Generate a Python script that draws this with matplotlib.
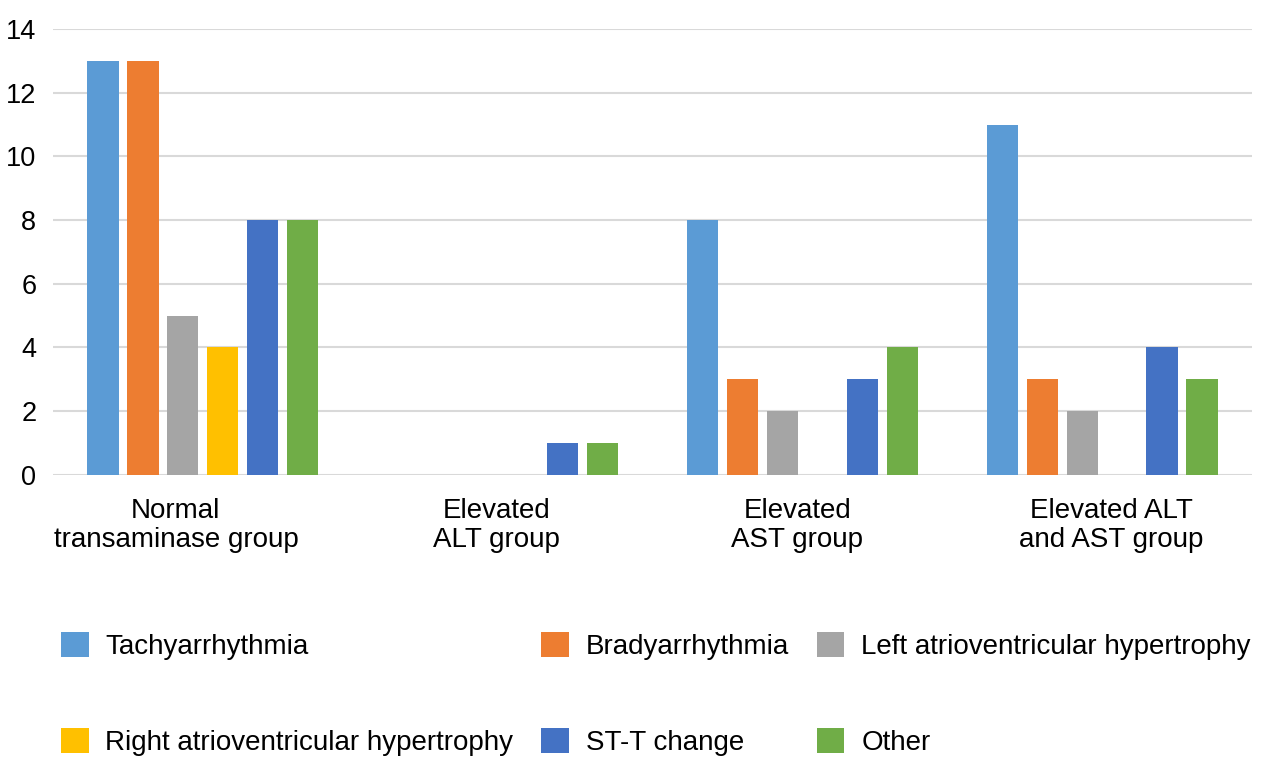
import numpy as np
import matplotlib
matplotlib.use("Agg")
import matplotlib.pyplot as plt
import matplotlib.transforms as mtransforms

plt.rcParams["font.family"] = ["Liberation Sans", "DejaVu Sans"]

groups = ["Normal\ntransaminase group", "Elevated\nALT group",
          "Elevated\nAST group", "Elevated ALT\nand AST group"]
series = ["Tachyarrhythmia", "Bradyarrhythmia", "Left atrioventricular hypertrophy",
          "Right atrioventricular hypertrophy", "ST-T change", "Other"]
tachy = [13, 0, 8, 11]
brady = [13, 0, 3, 3]
left_hyp = [5, 0, 2, 2]
right_hyp = [4, 0, 0, 0]
stt = [8, 1, 3, 4]
other = [8, 1, 4, 3]
values = [tachy, brady, left_hyp, right_hyp, stt, other]
colors = ["#5B9BD5", "#ED7D31", "#A5A5A5", "#FFC000", "#4472C4", "#70AD47"]

fig = plt.figure(figsize=(12.61, 7.64), dpi=100)
ax = fig.add_axes([53 / 1261, 1 - 474.7 / 764, 1199 / 1261, 445.7 / 764])

x = np.arange(len(groups))
step = 0.1333
width = 0.104
handles = []
for i, (name, vals, col) in enumerate(zip(series, values, colors)):
    b = ax.bar(x + (i - 2.5) * step, vals, width, color=col, label=name, zorder=3)
    handles.append(b)

ax.set_xlim(-0.5, 3.5)
ax.set_ylim(0, 14)
ax.set_yticks(range(0, 15, 2))
ax.set_xticks(x)
ax.set_xticklabels(groups, fontsize=20, linespacing=1.15)
ax.tick_params(axis="y", labelsize=19.5, length=0, pad=12)
ax.tick_params(axis="x", length=0, pad=17)
ax.grid(axis="y", color="#D9D9D9", linewidth=1.5, zorder=0)
for s in ax.spines.values():
    s.set_visible(False)

# the category labels sit a bit off the group centres in the original
shifts = [-27, -6, -5, 9]
for lab, dx in zip(ax.get_xticklabels(), shifts):
    lab.set_transform(lab.get_transform() +
                      mtransforms.ScaledTranslation(dx / 100, 0, fig.dpi_scale_trans))

# legend goes row-wise in the picture, matplotlib fills column-wise
order = [0, 3, 1, 4, 2, 5]
fig.legend([handles[k] for k in order], [series[k] for k in order],
           ncol=3, loc="upper left", bbox_to_anchor=(61 / 1261, 1 - 632 / 764),
           frameon=False, fontsize=20, handlelength=1.0, handleheight=1.0,
           handletextpad=0.6, columnspacing=1.0, labelspacing=2.45,
           borderpad=0, borderaxespad=0)

fig.savefig("out.png", dpi=100, facecolor="white")
